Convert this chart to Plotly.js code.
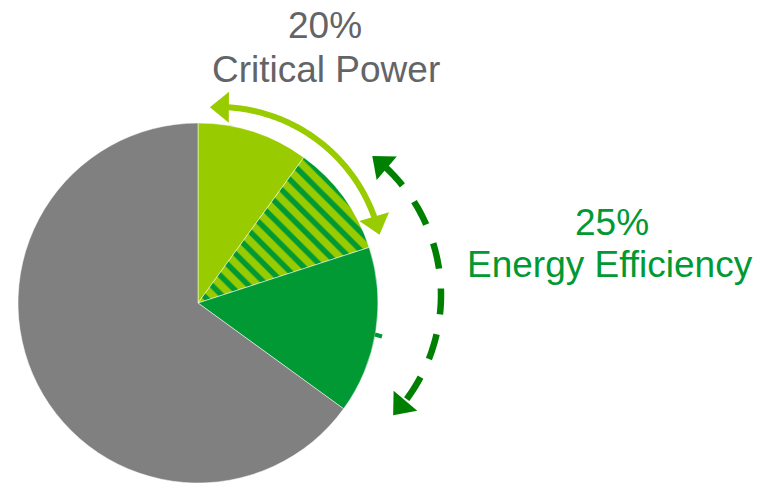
<!DOCTYPE html>
<html>
<head>
<meta charset="utf-8">
<script src="https://cdn.plot.ly/plotly-3.0.1.min.js"></script>
<style>
  html, body { margin: 0; padding: 0; background: #ffffff; }
  #chart { width: 772px; height: 485px; }
</style>
</head>
<body>
<div id="chart"></div>
<script>
// Load split, clockwise from 12 o'clock
const segments = ['Critical Power', 'Critical Power + Energy Efficiency', 'Energy Efficiency', 'Other'];
const shares = [10, 10, 15, 65];
const sliceColors = ['#99CC00', '#99CC00', '#009933', '#808080'];
const slicePatterns = ['', '\\', '', ''];

// Group totals shown in the callouts
const criticalShare = shares[0] + shares[1];
const efficiencyShare = shares[1] + shares[2];
const criticalLines = [criticalShare + '%', 'Critical Power'];
const efficiencyLines = [efficiencyShare + '%', 'Energy Efficiency'];

const W = 772, H = 485;
const fx = x => x / W;          // pixel -> paper (x)
const fy = y => 1 - y / H;      // pixel -> paper (y)

// Callout arcs (pixel geometry), angles in degrees clockwise from 12 o'clock
const criticalArc = { cx: 218, cy: 273, r: 166, from: -2.8, to: 76.7 };
const efficiencyArc = { cx: 266, cy: 295, r: 175, from: 37.4, to: 133.4 };
const HEAD_LEN = 19, HEAD_HALF = 15.5;

function arcPoint(a, deg) {
  const t = deg * Math.PI / 180;
  return [a.cx + a.r * Math.sin(t), a.cy - a.r * Math.cos(t)];
}
function toPaper(p) { return fx(p[0]).toFixed(5) + ',' + fy(p[1]).toFixed(5); }
function arcLine(a, d0, d1) {
  const n = 80;
  let s = '';
  for (let i = 0; i <= n; i++) {
    const p = arcPoint(a, d0 + (d1 - d0) * i / n);
    s += (i === 0 ? 'M' : ' L') + toPaper(p);
  }
  return s;
}
function headDeg(a) { return HEAD_LEN / a.r * 180 / Math.PI; }
function arrowHead(a, tipDeg, dir) {
  const tip = arcPoint(a, tipDeg);
  const base = arcPoint(a, tipDeg + dir * headDeg(a));
  const dx = tip[0] - base[0], dy = tip[1] - base[1];
  const len = Math.hypot(dx, dy);
  const nx = -dy / len, ny = dx / len;
  const c1 = [base[0] + nx * HEAD_HALF, base[1] + ny * HEAD_HALF];
  const c2 = [base[0] - nx * HEAD_HALF, base[1] - ny * HEAD_HALF];
  return 'M' + toPaper(tip) + ' L' + toPaper(c1) + ' L' + toPaper(c2) + ' Z';
}
function doubleArrow(a, color, width, dash) {
  const inset = headDeg(a) * 0.85;
  return [
    { type: 'path', xref: 'paper', yref: 'paper', layer: 'above',
      path: arcLine(a, a.from + inset, a.to - inset),
      line: { color: color, width: width, dash: dash } },
    { type: 'path', xref: 'paper', yref: 'paper', layer: 'above',
      path: arrowHead(a, a.from, 1), fillcolor: color, line: { width: 0 } },
    { type: 'path', xref: 'paper', yref: 'paper', layer: 'above',
      path: arrowHead(a, a.to, -1), fillcolor: color, line: { width: 0 } }
  ];
}

const pie = {
  type: 'pie',
  labels: segments,
  values: shares,
  sort: false,
  direction: 'clockwise',
  rotation: 0,
  textinfo: 'none',
  hoverinfo: 'label+percent',
  showlegend: false,
  domain: { x: [fx(18), fx(378)], y: [fy(483), fy(123)] },
  marker: {
    colors: sliceColors,
    line: { color: 'rgba(255,255,255,0.85)', width: 0.6 },
    pattern: {
      shape: slicePatterns,
      bgcolor: sliceColors,
      fgcolor: ['#009933', '#009933', '#009933', '#009933'],
      size: 13,
      solidity: 0.42,
      fillmode: 'replace'
    }
  }
};

const font = 'Arial, "Liberation Sans", sans-serif';
const grey = '#636468', green = '#009933';
function label(text, x, y, color) {
  return { text: text, xref: 'paper', yref: 'paper', x: fx(x), y: fy(y),
           xanchor: 'center', yanchor: 'middle', showarrow: false,
           font: { family: font, size: 37, color: color } };
}

const shapes = []
  .concat(doubleArrow(criticalArc, '#99CC00', 6, 'solid'))
  .concat(doubleArrow(efficiencyArc, '#008000', 6.5, '26px,20px'))
  .concat([{ type: 'line', xref: 'paper', yref: 'paper',
             x0: fx(375), y0: fy(334.5), x1: fx(382), y1: fy(336.5),
             line: { color: '#009933', width: 4 } }]);

const layout = {
  width: W, height: H,
  margin: { l: 0, r: 0, t: 0, b: 0, pad: 0 },
  paper_bgcolor: '#ffffff',
  plot_bgcolor: '#ffffff',
  showlegend: false,
  shapes: shapes,
  annotations: [
    label(criticalLines[0], 325, 25, grey),
    label(criticalLines[1], 326, 70, grey),
    label(efficiencyLines[0], 612, 222.5, green),
    label(efficiencyLines[1], 610, 264, green)
  ]
};

Plotly.newPlot('chart', [pie], layout, { displayModeBar: false, staticPlot: true });
</script>
</body>
</html>
